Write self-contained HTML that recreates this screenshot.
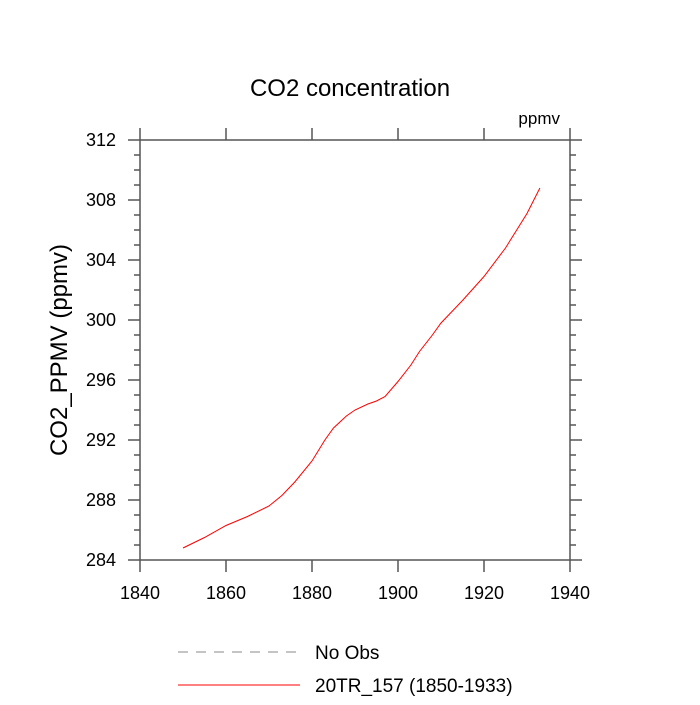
<!DOCTYPE html>
<html><head><meta charset="utf-8"><style>
body{margin:0;background:#fff}
svg text{font-family:"Liberation Sans",sans-serif;fill:#000}
</style></head><body>
<svg id="chart" width="700" height="700">
<text x="350" y="96" font-size="24" text-anchor="middle">CO2 concentration</text>
<text x="560" y="124" font-size="17" text-anchor="end">ppmv</text>
<text transform="translate(67,350) rotate(-90)" font-size="24" text-anchor="middle">CO2_PPMV  (ppmv)</text>
<g id="axes"></g>
<path id="series" fill="none" stroke="#ff0000" stroke-width="1"></path>
<rect x="140" y="140" width="430" height="420" fill="none" stroke="#555" stroke-width="1.5"/>
<line x1="178" y1="652" x2="300" y2="652" stroke="#888" stroke-dasharray="10,8"/>
<text x="315" y="659" font-size="19">No Obs</text>
<line x1="178" y1="685" x2="300" y2="685" stroke="#ff0000"/>
<text x="315" y="692" font-size="19">20TR_157 (1850-1933)</text>
</svg>
<script>
const years=[1850,1855,1860,1865,1870,1873,1876,1880,1883,1885,1888,1890,1893,1895,1897,1900,1903,1905,1908,1910,1913,1915,1920,1925,1930,1933];
const co2=[284.8,285.5,286.3,286.9,287.6,288.3,289.2,290.6,292.0,292.8,293.6,294.0,294.4,294.6,294.9,295.9,297.0,297.9,299.0,299.8,300.7,301.3,302.9,304.8,307.1,308.8];
const xTicks=[1840,1860,1880,1900,1920,1940];
const yTicks=[284,288,292,296,300,304,308,312];
const X=v=>140+(v-1840)*4.3, Y=v=>560-(v-284)*15;
const ns="http://www.w3.org/2000/svg", ax=document.getElementById('axes');
function ln(x1,y1,x2,y2,n){const l=document.createElementNS(ns,'line');
l.setAttribute('x1',x1);l.setAttribute('y1',y1);l.setAttribute('x2',x2);l.setAttribute('y2',y2);
l.setAttribute('stroke','#555');l.setAttribute('stroke-width','1.5');


ax.appendChild(l);}
function tx(x,y,s,a,n){const t=document.createElementNS(ns,'text');t.setAttribute('x',x);t.setAttribute('y',y);
t.setAttribute('font-size','18');t.setAttribute('text-anchor',a);t.textContent=s;


ax.appendChild(t);}
xTicks.forEach(v=>{ln(X(v),560,X(v),572,'x-tick');ln(X(v),140,X(v),128,'x-tick-top');tx(X(v),599,v,'middle','x-tick-label');});
for(let v=284;v<=312;v++){const maj=(v-284)%4===0,L=maj?12:6;ln(140,Y(v),140-L,Y(v),'y-tick');ln(570,Y(v),570+L,Y(v),'y-tick-right');}
yTicks.forEach(v=>tx(116,Y(v)+6,v,'end','y-tick-label'));
document.getElementById('series').setAttribute('d',years.map((y,i)=>(i?'L':'M')+X(y).toFixed(1)+','+Y(co2[i]).toFixed(1)).join(''));
</script>
</body></html>
